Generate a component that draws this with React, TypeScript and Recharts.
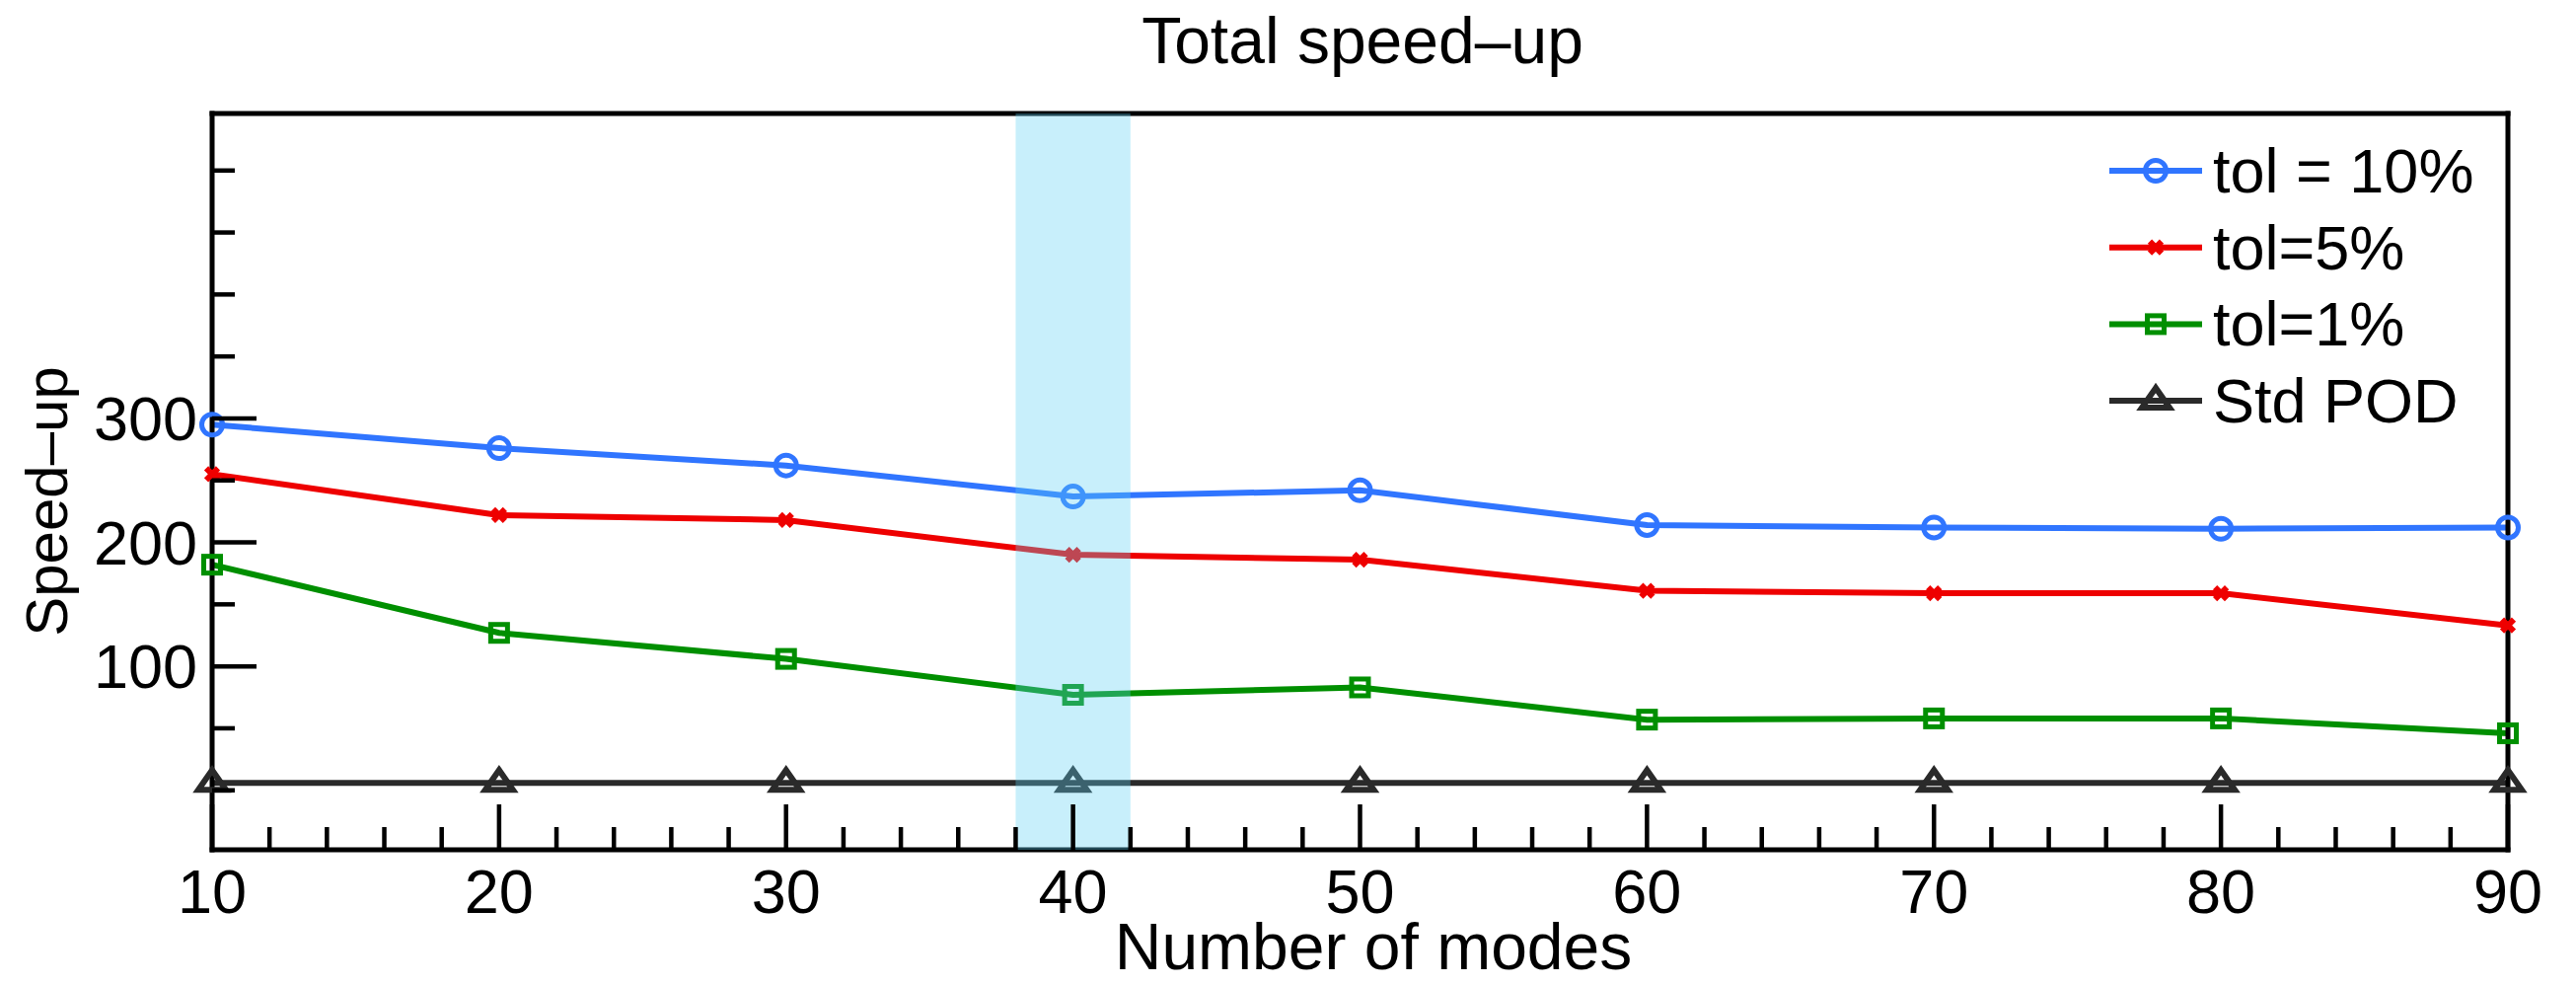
import React from "react";
import {
  LineChart,
  Line,
  XAxis,
  YAxis,
  ReferenceArea,
  Legend,
} from "recharts";

const MODES = [10, 20, 30, 40, 50, 60, 70, 80, 90];
const TOL10 = [295, 276, 262, 237, 242, 214, 212, 211, 212];
const TOL5 = [255, 222, 218, 190, 186, 161, 159, 159, 133];
const TOL1 = [182, 127, 106, 77, 83, 57, 58, 58, 46];
const STD_POD = [6, 6, 6, 6, 6, 6, 6, 6, 6];

const SERIES_NAMES = ["tol = 10%", "tol=5%", "tol=1%", "Std POD"];
const SERIES_KEYS = ["tol10", "tol5", "tol1", "std"];
const SERIES_COLORS = ["#3075ff", "#ee0000", "#008f00", "#2a2a2a"];
const SERIES_MARKERS = ["circle", "cross", "square", "triangle"];

// axis ticks: labelled majors, short minors
const X_MAJOR = MODES;
const X_TICKS: number[] = [];
for (let v = 10; v <= 90; v += 2) X_TICKS.push(v);
const Y_MAJOR = [100, 200, 300];
const Y_TICKS = [0, 50, 100, 150, 200, 250, 300, 350, 400, 450, 500];
const X_DOMAIN = [10, 90];
const Y_DOMAIN = [-48, 546];
const BAND = [38, 42];

const rows = MODES.map((m, i) => ({
  modes: m,
  tol10: TOL10[i],
  tol5: TOL5[i],
  tol1: TOL1[i],
  std: STD_POD[i],
}));

const FONT = "'Liberation Sans', Arial, Helvetica, sans-serif";
const FS = 63;
const AXIS = { stroke: "#000", strokeWidth: 5, strokeLinecap: "square" as const };
const MAJOR_LEN = 46;
const MINOR_LEN = 23;

function Marker({ kind, cx, cy, color }: { kind: string; cx: number; cy: number; color: string }) {
  if (kind === "circle")
    return <circle cx={cx} cy={cy} r={10.5} fill="none" stroke={color} strokeWidth={5} />;
  if (kind === "cross")
    return (
      <path
        d={`M${cx - 6},${cy - 6}L${cx + 6},${cy + 6}M${cx + 6},${cy - 6}L${cx - 6},${cy + 6}`}
        stroke={color}
        strokeWidth={6}
        fill="none"
      />
    );
  if (kind === "square")
    return <rect x={cx - 8.5} y={cy - 8.5} width={17} height={17} fill="none" stroke={color} strokeWidth={5} />;
  return (
    <polygon
      points={`${cx},${cy - 13} ${cx - 14},${cy + 7} ${cx + 14},${cy + 7}`}
      fill="none"
      stroke={color}
      strokeWidth={6}
    />
  );
}

// tick renderers: draw the inward tick line, plus a label on majors
function BottomTick(p: any) {
  const major = X_MAJOR.includes(p.payload.value);
  return (
    <g>
      <line x1={p.x} x2={p.x} y1={p.y} y2={p.y - (major ? MAJOR_LEN : MINOR_LEN)} stroke="#000" strokeWidth={4.5} />
      {major && (
        <text x={p.x} y={p.y + 64} textAnchor="middle" fontSize={FS} fontFamily={FONT} fill="#000">
          {p.payload.value}
        </text>
      )}
    </g>
  );
}

function TopTick(p: any) {
  const major = X_MAJOR.includes(p.payload.value);
  return <line x1={p.x} x2={p.x} y1={p.y} y2={p.y + (major ? MAJOR_LEN : MINOR_LEN)} stroke="#000" strokeWidth={4.5} />;
}

function LeftTick(p: any) {
  const major = Y_MAJOR.includes(p.payload.value);
  return (
    <g>
      <line x1={p.x} x2={p.x + (major ? 45 : MINOR_LEN)} y1={p.y} y2={p.y} stroke="#000" strokeWidth={4.5} />
      {major && (
        <text x={p.x - 15} y={p.y + 22} textAnchor="end" fontSize={FS} fontFamily={FONT} fill="#000">
          {p.payload.value}
        </text>
      )}
    </g>
  );
}

function RightTick(p: any) {
  const major = Y_MAJOR.includes(p.payload.value);
  return <line x1={p.x} x2={p.x - (major ? 45 : MINOR_LEN)} y1={p.y} y2={p.y} stroke="#000" strokeWidth={4.5} />;
}

function LegendBox() {
  return (
    <svg width={480} height={320} style={{ display: "block" }}>
      {SERIES_NAMES.map((name, i) => {
        const y = 43 + i * 77.7;
        return (
          <g key={name}>
            <line x1={18} x2={112} y1={y} y2={y} stroke={SERIES_COLORS[i]} strokeWidth={6} />
            <Marker kind={SERIES_MARKERS[i]} cx={65} cy={y} color={SERIES_COLORS[i]} />
            <text x={123} y={y + 22} fontSize={FS} fontFamily={FONT} fill="#000">
              {name}
            </text>
          </g>
        );
      })}
    </svg>
  );
}

export default function App() {
  return (
    <div style={{ position: "absolute", left: 0, top: 0, width: 2611, height: 998, background: "#fff" }}>
      <LineChart
        width={2611}
        height={998}
        data={rows}
        margin={{ top: 114, right: 68, bottom: 136, left: 214 }}
      >
        <XAxis
          xAxisId="x"
          dataKey="modes"
          type="number"
          domain={X_DOMAIN}
          ticks={X_TICKS}
          interval={0}
          height={1}
          tickSize={0}
          tickMargin={0}
          tickLine={false}
          axisLine={AXIS}
          tick={BottomTick}
        />
        <XAxis
          xAxisId="xTop"
          orientation="top"
          type="number"
          domain={X_DOMAIN}
          ticks={X_TICKS}
          interval={0}
          height={1}
          tickSize={0}
          tickMargin={0}
          tickLine={false}
          axisLine={AXIS}
          tick={TopTick}
        />
        <YAxis
          yAxisId="y"
          type="number"
          domain={Y_DOMAIN}
          ticks={Y_TICKS}
          interval={0}
          width={1}
          tickSize={0}
          tickMargin={0}
          tickLine={false}
          axisLine={AXIS}
          tick={LeftTick}
        />
        <YAxis
          yAxisId="yR"
          orientation="right"
          type="number"
          domain={Y_DOMAIN}
          ticks={Y_TICKS}
          interval={0}
          width={1}
          tickSize={0}
          tickMargin={0}
          tickLine={false}
          axisLine={AXIS}
          tick={RightTick}
        />

        {SERIES_KEYS.map((key, i) => (
          <Line
            key={key}
            xAxisId="x"
            yAxisId="y"
            type="linear"
            dataKey={key}
            stroke={SERIES_COLORS[i]}
            strokeWidth={6}
            isAnimationActive={false}
            dot={(p: any) => (
              <Marker key={`${key}-${p.index}`} kind={SERIES_MARKERS[i]} cx={p.cx} cy={p.cy} color={SERIES_COLORS[i]} />
            )}
            activeDot={false}
          />
        ))}

        <ReferenceArea
          xAxisId="x"
          yAxisId="y"
          x1={BAND[0]}
          x2={BAND[1]}
          fill="#5ecff3"
          fillOpacity={0.34}
          stroke="none"
          zIndex={1500}
        />

        <Legend
          layout="vertical"
          align="center"
          verticalAlign="middle"
          content={() => <LegendBox />}
          wrapperStyle={{ left: 2120, top: 130, width: 480, height: 320 }}
        />
      </LineChart>

      <svg
        width={2611}
        height={998}
        style={{ position: "absolute", left: 0, top: 0, pointerEvents: "none" }}
      >
        <text x={1381} y={64} textAnchor="middle" fontSize={66} fontFamily={FONT} fill="#000">
          Total speed–up
        </text>
        <text x={1392} y={982} textAnchor="middle" fontSize={66} fontFamily={FONT} fill="#000">
          Number of modes
        </text>
        <text
          x={68}
          y={508}
          textAnchor="middle"
          fontSize={60}
          fontFamily={FONT}
          fill="#000"
          transform="rotate(-90 68 508)"
        >
          Speed–up
        </text>
      </svg>
    </div>
  );
}
